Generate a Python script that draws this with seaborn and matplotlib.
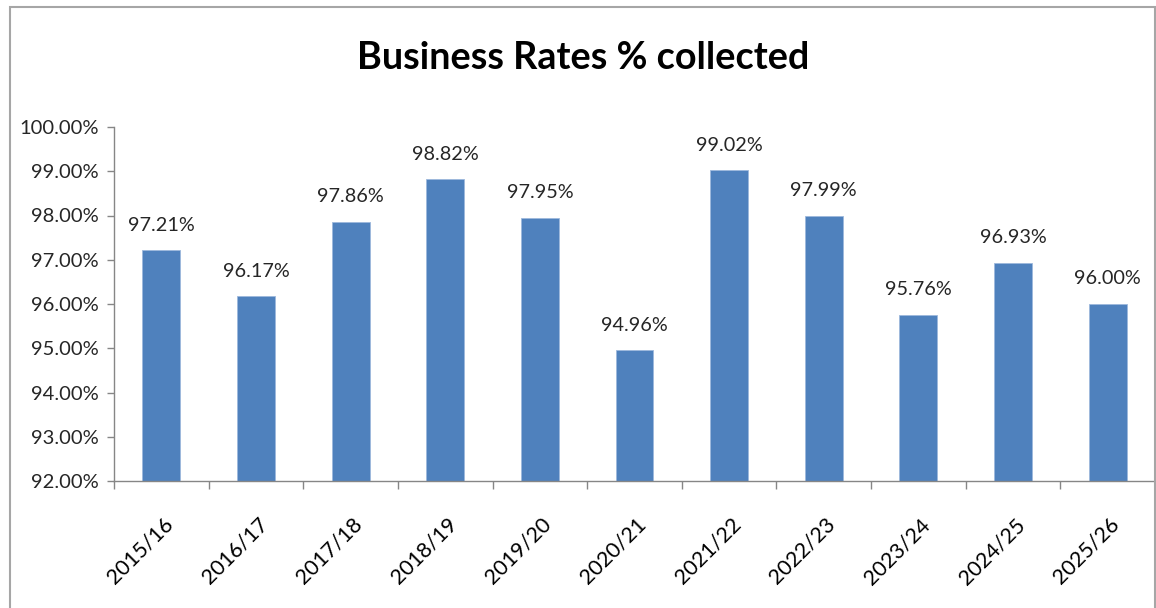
import matplotlib
matplotlib.use("Agg")
import matplotlib.pyplot as plt
import matplotlib.patches as mpatches
import matplotlib.transforms as mtransforms
from matplotlib.ticker import FixedLocator, FuncFormatter
import seaborn as sns
import pandas as pd

# Collection rate for each financial year
years = ["2015/16", "2016/17", "2017/18", "2018/19", "2019/20", "2020/21",
         "2021/22", "2022/23", "2023/24", "2024/25", "2025/26"]
collected_pct = [97.21, 96.17, 97.86, 98.82, 97.95, 94.96,
                 99.02, 97.99, 95.76, 96.93, 96.00]
y_ticks = [92, 93, 94, 95, 96, 97, 98, 99, 100]

title = "Business Rates % collected"
bar_color = "#4F81BD"
axis_color = "#868686"

sns.set_theme(style="white")
plt.rcParams["font.family"] = ["Lato", "DejaVu Sans"]

df = pd.DataFrame({"year": years, "pct": collected_pct})

fig = plt.figure(figsize=(11.56, 6.08), dpi=100)
ax = fig.add_axes([114 / 1156, 1 - 481 / 608, (1155 - 114) / 1156, (481 - 127) / 608])

sns.barplot(data=df, x="year", y="pct", color=bar_color, width=0.4,
            saturation=1, edgecolor="#9DB8DC", linewidth=0.6, ax=ax)

ax.set_ylim(92, 100)
ax.set_xlim(-0.5, len(years) - 0.5)
ax.set_xlabel("")
ax.set_ylabel("")

# y axis
ax.yaxis.set_major_locator(FixedLocator(y_ticks))
ax.yaxis.set_major_formatter(FuncFormatter(lambda v, _: f"{v:.2f}%"))
ax.tick_params(axis="y", which="major", direction="out", length=5, width=1,
               color=axis_color, labelsize=14.5, labelcolor="#262626", pad=6,
               left=True)

# x axis: ticks sit between categories, labels at the centres
ax.xaxis.set_major_locator(FixedLocator([i - 0.5 for i in range(len(years) + 1)]))
ax.xaxis.set_minor_locator(FixedLocator(list(range(len(years)))))
ax.set_xticklabels([], minor=False)
ax.set_xticklabels(years, minor=True)
ax.tick_params(axis="x", which="major", direction="out", length=6, width=1,
               color=axis_color, bottom=True)
ax.tick_params(axis="x", which="minor", length=0, labelsize=15.5,
               labelcolor="#000000", pad=24)
shift = mtransforms.ScaledTranslation(1 / 72, 0, fig.dpi_scale_trans)
for lbl in ax.get_xticklabels(minor=True):
    lbl.set_rotation(45)
    lbl.set_ha("right")
    lbl.set_va("top")
    lbl.set_rotation_mode("anchor")
    lbl.set_transform(lbl.get_transform() + shift)

for side in ["top", "right"]:
    ax.spines[side].set_visible(False)
for side in ["left", "bottom"]:
    ax.spines[side].set_color(axis_color)
    ax.spines[side].set_linewidth(1)

ax.grid(False)

# value labels above bars
for i, v in enumerate(collected_pct):
    ax.annotate(f"{v:.2f}%", xy=(i, v), xytext=(0, 18), textcoords="offset points",
                ha="center", va="center", fontsize=14.3, color="#262626")

fig.text(583 / 1156, 1 - 58 / 608, title, ha="center", va="center",
         fontsize=27.2, fontweight="bold", color="#000000")

# chart frame
fig.patches.append(mpatches.Rectangle((10 / 1156, -0.05), (1155 - 10) / 1156, 1.05 - 7 / 608,
                                      transform=fig.transFigure, fill=False,
                                      edgecolor="#A6A6A6", linewidth=1.5))

fig.savefig("out.png", dpi=100)
